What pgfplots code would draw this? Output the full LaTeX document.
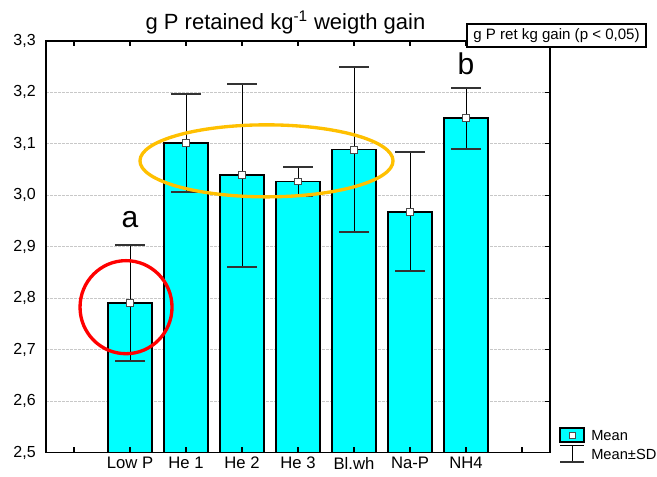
\documentclass[border=0pt]{standalone}
\usepackage{fontspec}
\setmainfont{Liberation Sans}
\usepackage{pgfplots}
\pgfplotsset{compat=1.18}
\definecolor{barcyan}{RGB}{0,255,255}
\definecolor{ellorange}{RGB}{255,192,0}
\definecolor{gridgray}{RGB}{200,200,200}
\begin{document}
\begin{tikzpicture}
\pgfplotsset{base/.style={scale only axis, width=378pt, height=308.625pt,
  xmin=-1.5, xmax=7.5, ymin=2.5, ymax=3.3}}
% background grid
\begin{axis}[base, axis line style={draw=none}, xtick=\empty,
  ytick={2.6,2.7,2.8,2.9,3.0,3.1,3.2}, yticklabels={}, major tick length=0pt,
  ymajorgrids, major grid style={gridgray, line width=0.7pt, dash pattern=on 2pt off 1pt}]
\addplot[draw=none] coordinates {(0,2.6)};
\end{axis}
% main axis
\begin{axis}[base, name=ax, axis on top,
  axis line style={line width=1.1pt, black},
  xtick={-1,0,1,2,3,4,5,6,7},
  xticklabels={{},Low P,He 1,He 2,He 3,Bl.wh,Na-P,NH4,{}},
  ytick={2.5,2.6,2.7,2.8,2.9,3.0,3.1,3.2,3.3},
  ytick pos=right, yticklabel pos=left,
  major tick length=3.75pt,
  major tick style={line width=0.8pt, black},
  /pgf/number format/.cd, use comma, fixed, fixed zerofill, precision=1, assume math mode=true,
  /pgfplots/.cd,
  yticklabel style={font=\fontsize{12}{14}\selectfont, xshift=-4.2pt},
  xticklabel style={font=\fontsize{12.5}{14}\selectfont},
]
\addplot[ybar, bar width=33pt, bar shift=0pt, fill=barcyan, draw=black, line width=1.3pt]
  coordinates {(0,2.791) (1,3.102) (2,3.039) (3,3.027) (4,3.089) (5,2.968) (6,3.150)};
\addplot[only marks, mark=square*, mark size=2.6pt,
  mark options={fill=white, draw=black!70, line width=0.6pt},
  error bars/.cd, y dir=both, y explicit,
  error bar style={line width=0.7pt, black},
  error mark options={rotate=90, mark size=11.25pt, line width=1.5pt, draw=black!80}]
  coordinates {(0,2.791) +- (0,0.113) (1,3.102) +- (0,0.095) (2,3.039) +- (0,0.178)
    (3,3.027) +- (0,0.028) (4,3.089) +- (0,0.160) (5,2.968) +- (0,0.116) (6,3.150) +- (0,0.059)};
\node[font=\fontsize{22.5}{26}\selectfont] at (axis cs:0,2.952) {a};
\node[font=\fontsize{22.5}{26}\selectfont] at (axis cs:6,3.255) {b};
\coordinate (redc) at (axis cs:-0.071,2.7825);
\coordinate (orc) at (axis cs:2.4375,3.067);
\end{axis}
\draw[red, line width=2.5pt] (redc) ellipse [x radius=34.5pt, y radius=34.9pt];
\draw[ellorange, line width=2.5pt] (orc) ellipse [x radius=94.9pt, y radius=27pt];
% title
\node[anchor=base, font=\fontsize{16.5}{19}\selectfont] at ([xshift=179.6pt, yshift=8.25pt]ax.north west) {g P retained kg\textsuperscript{-1} weigth gain};
% box
\draw[fill=white, line width=1pt] ([xshift=-62.25pt, yshift=12.75pt]ax.north east) rectangle ([xshift=72pt, yshift=-4.5pt]ax.north east);
\node[font=\fontsize{11.3}{13}\selectfont] at ([xshift=4.9pt, yshift=4.1pt]ax.north east) {g P ret kg gain (p < 0,05)};
% legend
\draw[fill=barcyan, line width=1.2pt] ([xshift=7.5pt, yshift=7.9pt]ax.south east) rectangle ([xshift=25.5pt, yshift=18.4pt]ax.south east);
\draw[fill=white, draw=black!70, line width=0.6pt] ([xshift=14.25pt, yshift=10.9pt]ax.south east) rectangle ([xshift=18.75pt, yshift=15.4pt]ax.south east);
\node[anchor=west, font=\fontsize{11}{13}\selectfont, inner sep=0pt] at ([xshift=30.75pt, yshift=13.1pt]ax.south east) {Mean};
\draw[line width=0.7pt] ([xshift=16.5pt, yshift=4.9pt]ax.south east) -- ([xshift=16.5pt, yshift=-7.1pt]ax.south east);
\draw[line width=0.8pt] ([xshift=7.5pt, yshift=4.9pt]ax.south east) -- ([xshift=25.5pt, yshift=4.9pt]ax.south east);
\draw[line width=1.5pt, black!80] ([xshift=7.5pt, yshift=-7.1pt]ax.south east) -- ([xshift=25.5pt, yshift=-7.1pt]ax.south east);
\node[anchor=west, font=\fontsize{11}{13}\selectfont, inner sep=0pt] at ([xshift=30.75pt, yshift=-1.1pt]ax.south east) {Mean±SD};
\pgfresetboundingbox
\path ([xshift=-34.5pt, yshift=-18.375pt]ax.south west) rectangle ([xshift=80.25pt, yshift=30.75pt]ax.north east);
\end{tikzpicture}
\end{document}
